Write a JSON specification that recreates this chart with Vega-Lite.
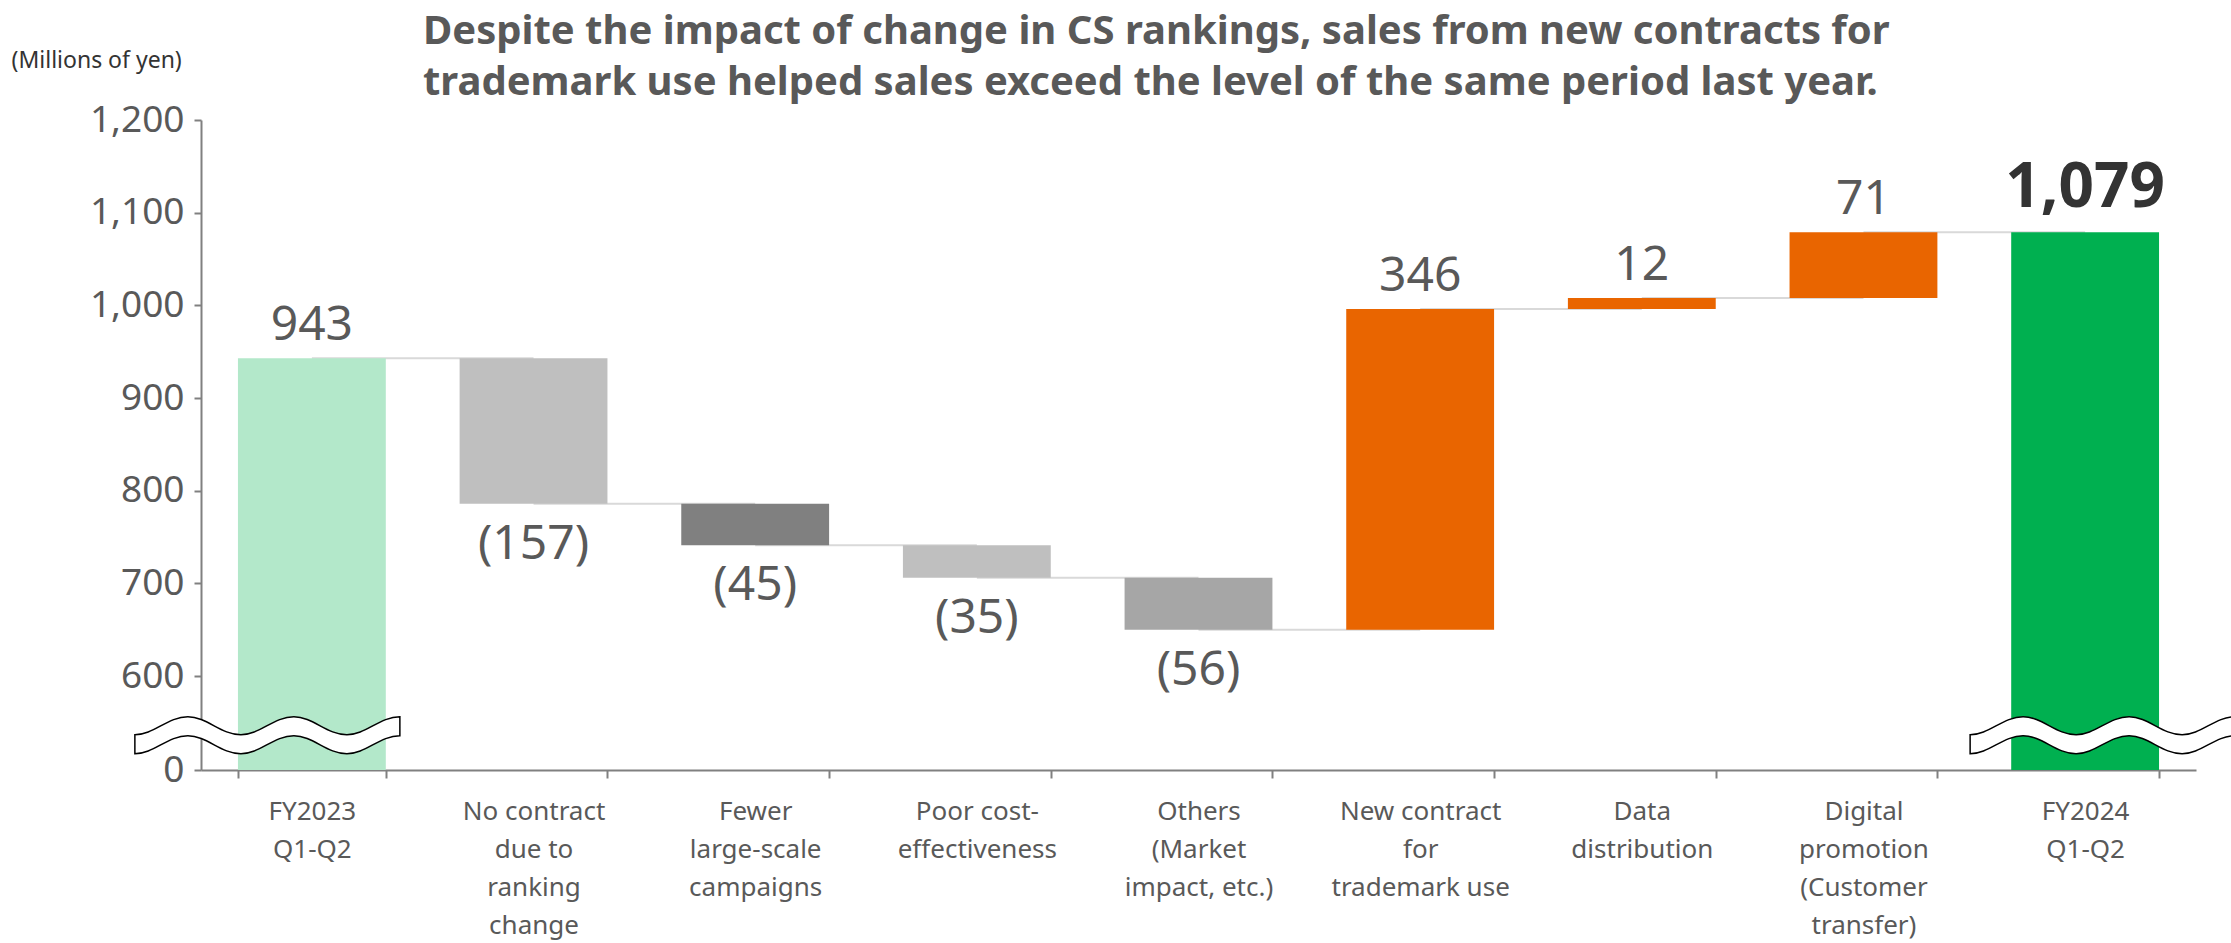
{
  "$schema": "https://vega.github.io/schema/vega-lite/v6.json",
  "autosize": "none",
  "width": 1995,
  "height": 650,
  "padding": {"left": 201, "top": 120, "right": 35, "bottom": 173},
  "background": "white",
  "config": {
    "view": {"stroke": null},
    "font": "Noto Sans",
    "axis": {"grid": false}
  },
  "title": {
    "text": ["Despite the impact of change in CS rankings, sales from new contracts for", "trademark use helped sales exceed the level of the same period last year."],
    "anchor": "start",
    "frame": "group",
    "dx": 222,
    "dy": 58,
    "fontSize": 40,
    "fontWeight": "bold",
    "color": "#595959",
    "lineHeight": 51,
    "font": "Noto Sans"
  },
  "datasets": {
    "steps": [
      {"cat": "FY2023\nQ1-Q2", "type": "start", "start": 0, "end": 943, "label": "943", "next": "No contract\ndue to\nranking\nchange"},
      {"cat": "No contract\ndue to\nranking\nchange", "type": "ranking", "start": 943, "end": 786, "label": "(157)", "next": "Fewer\nlarge-scale\ncampaigns"},
      {"cat": "Fewer\nlarge-scale\ncampaigns", "type": "campaigns", "start": 786, "end": 741, "label": "(45)", "next": "Poor cost-\neffectiveness"},
      {"cat": "Poor cost-\neffectiveness", "type": "cost", "start": 741, "end": 706, "label": "(35)", "next": "Others\n(Market\nimpact, etc.)"},
      {"cat": "Others\n(Market\nimpact, etc.)", "type": "others", "start": 706, "end": 650, "label": "(56)", "next": "New contract\nfor\ntrademark use"},
      {"cat": "New contract\nfor\ntrademark use", "type": "trademark", "start": 650, "end": 996, "label": "346", "next": "Data\ndistribution"},
      {"cat": "Data\ndistribution", "type": "data", "start": 996, "end": 1008, "label": "12", "next": "Digital\npromotion\n(Customer\ntransfer)"},
      {"cat": "Digital\npromotion\n(Customer\ntransfer)", "type": "digital", "start": 1008, "end": 1079, "label": "71", "next": "FY2024\nQ1-Q2"},
      {"cat": "FY2024\nQ1-Q2", "type": "end", "start": 0, "end": 1079, "label": "1,079", "next": null}
    ],
    "breaks": [
      {"cat": "FY2023\nQ1-Q2", "side": "a", "value": 225},
      {"cat": "FY2024\nQ1-Q2", "side": "b", "value": 225}
    ]
  },
  "encoding": {
    "x": {
      "field": "cat",
      "type": "nominal",
      "scale": {
        "domain": ["FY2023\nQ1-Q2", "No contract\ndue to\nranking\nchange", "Fewer\nlarge-scale\ncampaigns", "Poor cost-\neffectiveness", "Others\n(Market\nimpact, etc.)", "New contract\nfor\ntrademark use", "Data\ndistribution", "Digital\npromotion\n(Customer\ntransfer)", "FY2024\nQ1-Q2"],
        "paddingInner": 0.333,
        "paddingOuter": 0.1667
      },
      "axis": {
        "title": null,
        "labelAngle": 0,
        "labelExpr": "datum.value ? split(datum.value, '\\n') : ''",
        "labelFontSize": 26,
        "labelLineHeight": 38,
        "labelColor": "#595959",
        "labelPadding": 20,
        "labelLimit": 400,
        "labelBaseline": "top",
        "tickBand": "extent",
        "tickSize": 8,
        "tickColor": "#808080",
        "tickWidth": 2,
        "domainColor": "#808080",
        "domainWidth": 2
      }
    }
  },
  "layer": [
    {
      "data": {"name": "steps"},
      "transform": [{"filter": "datum.next != null"}],
      "mark": {"type": "rule", "color": "#D9D9D9", "strokeWidth": 2},
      "encoding": {
        "x": {"field": "cat", "type": "nominal", "bandPosition": 0.5},
        "x2": {"field": "next", "bandPosition": 0.5},
        "y": {"field": "end", "type": "quantitative"}
      }
    },
    {
      "data": {"name": "steps"},
      "mark": {"type": "bar"},
      "encoding": {
        "y": {
          "field": "start",
          "type": "quantitative",
          "scale": {"domain": [0, 600, 1200], "range": [650, 556, 0], "nice": false, "zero": false},
          "axis": {
            "values": [0, 600, 700, 800, 900, 1000, 1100, 1200],
            "format": ",d",
            "title": "(Millions of yen)",
            "titleAngle": 0,
            "titleAlign": "left",
            "titleBaseline": "middle",
            "titleX": -190,
            "titleY": -60,
            "titleFontSize": 23,
            "titleFontWeight": "normal",
            "titleColor": "#333333",
            "labelFontSize": 37,
            "labelColor": "#595959",
            "labelPadding": 10,
            "tickSize": 7,
            "tickColor": "#808080",
            "tickWidth": 2,
            "domainColor": "#808080",
            "domainWidth": 2
          }
        },
        "y2": {"field": "end"},
        "color": {
          "field": "type",
          "type": "nominal",
          "legend": null,
          "scale": {
            "domain": ["start", "ranking", "campaigns", "cost", "others", "trademark", "data", "digital", "end"],
            "range": ["#B3E8CA", "#BFBFBF", "#808080", "#BFBFBF", "#A6A6A6", "#E96500", "#E96500", "#E96500", "#00B050"]
          }
        }
      }
    },
    {
      "data": {"name": "breaks"},
      "mark": {"type": "point", "filled": true, "opacity": 1, "size": 4, "color": "white", "strokeWidth": 0},
      "encoding": {
        "y": {"field": "value", "type": "quantitative"},
        "shape": {
          "field": "side",
          "type": "nominal",
          "legend": null,
          "scale": {
            "domain": ["a", "b"],
            "range": [
              "M-177,0 C-158,0 -144,-18 -124,-18 C-105,-18 -91,0 -71,0 C-52,0 -38,-18 -18,-18 C1,-18 15,0 35,0 C54,0 68,-18 88,-18 L88,1 C68,1 54,19 35,19 C15,19 1,1 -18,1 C-38,1 -52,19 -71,19 C-91,19 -105,1 -124,1 C-144,1 -158,19 -177,19 Z",
              "M-115,0 C-96,0 -82,-18 -62,-18 C-43,-18 -29,0 -9,0 C10,0 24,-18 44,-18 C63,-18 77,0 97,0 C116,0 130,-18 150,-18 L150,1 C130,1 116,19 97,19 C77,19 63,1 44,1 C24,1 10,19 -9,19 C-29,19 -43,1 -62,1 C-82,1 -96,19 -115,19 Z"
            ]
          }
        }
      }
    },
    {
      "data": {"name": "breaks"},
      "mark": {"type": "point", "filled": false, "opacity": 1, "size": 4, "color": "#000000", "strokeWidth": 1.5},
      "encoding": {
        "y": {"field": "value", "type": "quantitative"},
        "shape": {
          "field": "side",
          "type": "nominal",
          "legend": null,
          "scale": {
            "domain": ["a", "b"],
            "range": [
              "M-177,0 C-158,0 -144,-18 -124,-18 C-105,-18 -91,0 -71,0 C-52,0 -38,-18 -18,-18 C1,-18 15,0 35,0 C54,0 68,-18 88,-18 M-177,19 C-158,19 -144,1 -124,1 C-105,1 -91,19 -71,19 C-52,19 -38,1 -18,1 C1,1 15,19 35,19 C54,19 68,1 88,1",
              "M-115,0 C-96,0 -82,-18 -62,-18 C-43,-18 -29,0 -9,0 C10,0 24,-18 44,-18 C63,-18 77,0 97,0 C116,0 130,-18 150,-18 M-115,19 C-96,19 -82,1 -62,1 C-43,1 -29,19 -9,19 C10,19 24,1 44,1 C63,1 77,19 97,19 C116,19 130,1 150,1"
            ]
          }
        }
      }
    },
    {
      "data": {"name": "steps"},
      "transform": [{"filter": "datum.end >= datum.start && datum.type != 'end'"}],
      "mark": {"type": "text", "fontSize": 48, "color": "#595959", "baseline": "middle", "dy": -32},
      "encoding": {
        "y": {"field": "end", "type": "quantitative"},
        "text": {"field": "label"}
      }
    },
    {
      "data": {"name": "steps"},
      "transform": [{"filter": "datum.end < datum.start"}],
      "mark": {"type": "text", "fontSize": 48, "color": "#595959", "baseline": "middle", "dy": 41},
      "encoding": {
        "y": {"field": "end", "type": "quantitative"},
        "text": {"field": "label"}
      }
    },
    {
      "data": {"name": "steps"},
      "transform": [{"filter": "datum.type == 'end'"}],
      "mark": {"type": "text", "fontSize": 62, "fontWeight": "bold", "color": "#333333", "baseline": "middle", "dy": -44},
      "encoding": {
        "y": {"field": "end", "type": "quantitative"},
        "text": {"field": "label"}
      }
    }
  ]
}
